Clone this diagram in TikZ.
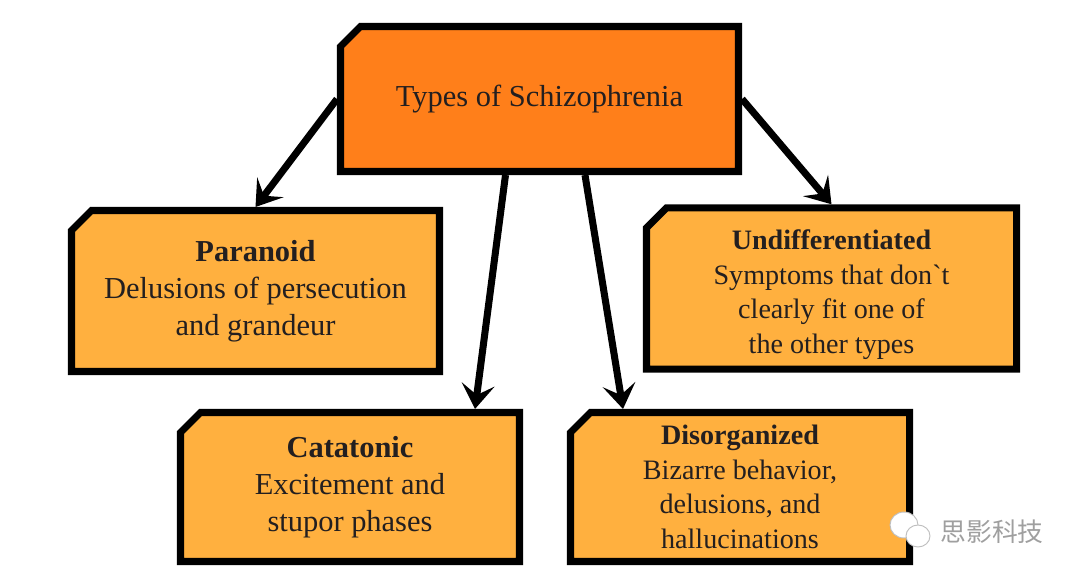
\documentclass[tikz,border=0pt]{standalone}
\usepackage{fontspec}
\setmainfont{Liberation Serif}
\newfontfamily\cjk{Noto Sans CJK SC}
\usetikzlibrary{shapes.misc,arrows.meta,calc}
\definecolor{naranja}{HTML}{FF7F1A}
\definecolor{naranjaclaro}{HTML}{FFB03F}
\definecolor{tinta}{HTML}{231F20}
\tikzset{
    caja/.style={chamfered rectangle, chamfered rectangle corners=north west,
        chamfered rectangle sep=0.3cm, draw=black, line width=6pt,
        fill=naranjaclaro, text=tinta, align=center, inner sep=0pt},
    flecha/.style={draw=black, line width=6pt,
        -{Stealth[length=21pt, width=28pt, inset=9pt]}}
}
\begin{document}
\begin{tikzpicture}[x=0.03cm, y=-0.03cm]
\useasboundingbox (0,0) rectangle (1080,581);

% Caja central
\node[caja, fill=naranja, minimum width=11.94cm, minimum height=4.35cm,
    font=\fontsize{26}{31}\selectfont] (centro) at (539.5,99) {Types of Schizophrenia};

% Tipos
\foreach \n/\x/\y/\w/\h/\s/\l/\t in {
    paranoide/255.5/291/11.04/4.83/26/31.5/{\textbf{Paranoid}\\Delusions of persecution\\and grandeur},
    catatonico/350/487/10.17/4.47/26/31.5/{\textbf{Catatonic}\\Excitement and\\stupor phases},
    desorganizado/740/487/10.17/4.47/24/29.5/{\textbf{Disorganized}\\Bizarre behavior,\\delusions, and\\hallucinations},
    indiferenciado/831.5/288.5/11.1/4.8/24/29.5/{\rule{0pt}{0.95cm}\textbf{Undifferentiated}\\Symptoms that don\textasciigrave t\\clearly fit one of\\the other types}} {
    \node[caja, minimum width=\w cm, minimum height=\h cm,
        font=\fontsize{\s}{\l}\selectfont] (\n) at (\x,\y) {\t};
}

% Flechas
\draw[flecha] (centro.west) -- (paranoide.north);
\draw[flecha] ($(centro.south)+(-34,0)$) -- ($(catatonico.north)+(125,0)$);
\draw[flecha] ($(centro.south)+(45.5,0)$) -- ($(desorganizado.north)+(-117,0)$);
\draw[flecha] (centro.east) -- (indiferenciado.north);

% Marca de agua
\draw[gray!50, fill=white, line width=0.8pt] (904,525) ellipse (14 and 13);
\draw[gray!50, fill=white, line width=0.8pt] (918,536) ellipse (12 and 11);
\node[text=gray!75, font=\cjk\fontsize{22}{24}\selectfont] (marca) at (992,532) {思影科技};
\end{tikzpicture}
\end{document}
